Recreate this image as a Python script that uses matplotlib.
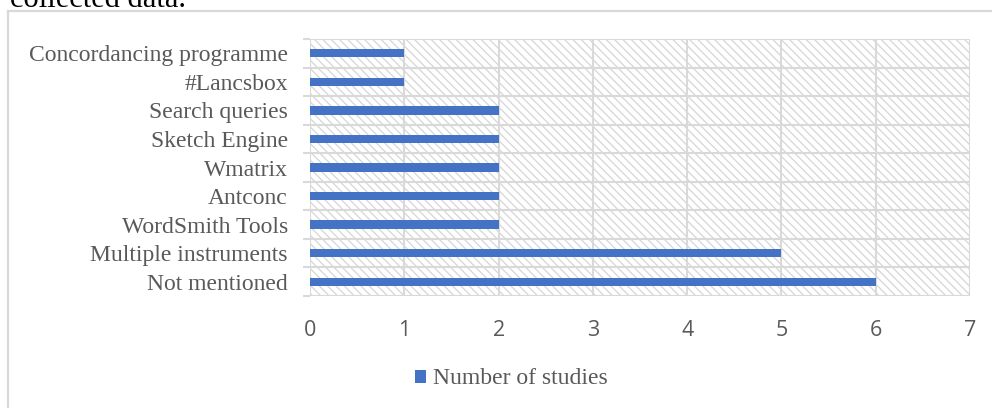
import matplotlib
matplotlib.use("Agg")
import matplotlib.pyplot as plt
from matplotlib.patches import Rectangle
from matplotlib.lines import Line2D
import numpy as np

categories = ["Not mentioned", "Multiple instruments", "WordSmith Tools", "Antconc",
              "Wmatrix", "Sketch Engine", "Search queries", "#Lancsbox",
              "Concordancing programme"]
values = [6, 5, 2, 2, 2, 2, 2, 1, 1]
x_ticks = [0, 1, 2, 3, 4, 5, 6, 7]
series_name = "Number of studies"

W, H = 992, 408
fig = plt.figure(figsize=(W / 100, H / 100), dpi=100)
fig.patch.set_facecolor("white")

grid_c = "#d9d9d9"
text_c = "#595959"
bar_c = "#4472C4"

# outer chart frame (left and top only visible)
fig.add_artist(Line2D([8 / W, 1.0], [1 - 11 / H, 1 - 11 / H], transform=fig.transFigure,
                      color=grid_c, lw=1.6))
fig.add_artist(Line2D([8 / W, 8 / W], [1 - 11 / H, 0], transform=fig.transFigure,
                      color=grid_c, lw=1.6))

# clipped caption text from the page above
fig.text(10 / W, 1 - 7 / H, "collected data.", family="Liberation Serif",
         fontsize=22, color="black", va="baseline", ha="left")

left, right, top, bottom = 310, 970, 39, 296
ax = fig.add_axes([left / W, 1 - bottom / H, (right - left) / W, (bottom - top) / H])

n = len(categories)
y = np.arange(n)
ax.set_xlim(0, 7)
ax.set_ylim(-0.5, n - 0.5)

# hatched plot background
plt.rcParams["hatch.linewidth"] = 0.9
bg = Rectangle((0, 0), 1, 1, transform=ax.transAxes, facecolor="white",
               edgecolor="#d6d6d6", hatch="\\\\\\\\", lw=0, zorder=0)
ax.add_patch(bg)

bars = ax.barh(y, values, height=0.29, color=bar_c, zorder=3, label=series_name)

# gridlines
for xv in x_ticks:
    ax.axvline(xv, color=grid_c, lw=1.5, zorder=1)
for b in np.arange(-0.5, n, 1.0):
    ax.axhline(b, color=grid_c, lw=1.5, zorder=1)

for s in ax.spines.values():
    s.set_visible(False)

ax.set_xticks(x_ticks)
ax.set_xticklabels([str(v) for v in x_ticks], family="Open Sans", fontsize=15.5, color=text_c)
ax.tick_params(axis="x", length=0, pad=17)

ax.set_yticks(y)
ax.set_yticklabels(categories, family="Liberation Serif", fontsize=17, color=text_c,
                   va="center_baseline")
ax.tick_params(axis="y", which="major", length=0, pad=16)
ax.set_yticks(np.arange(-0.5, n, 1.0), minor=True)
ax.tick_params(axis="y", which="minor", length=5, width=1.5, color=grid_c, direction="out")

leg = fig.legend(handles=[bars], labels=[series_name], loc="center",
                 bbox_to_anchor=(511 / W, 1 - 379 / H), frameon=False,
                 prop={"family": "Liberation Serif", "size": 17},
                 handlelength=0.47, handleheight=0.47, handletextpad=0.3)
for t in leg.get_texts():
    t.set_color(text_c)

fig.savefig("out.png", dpi=100, facecolor="white")
